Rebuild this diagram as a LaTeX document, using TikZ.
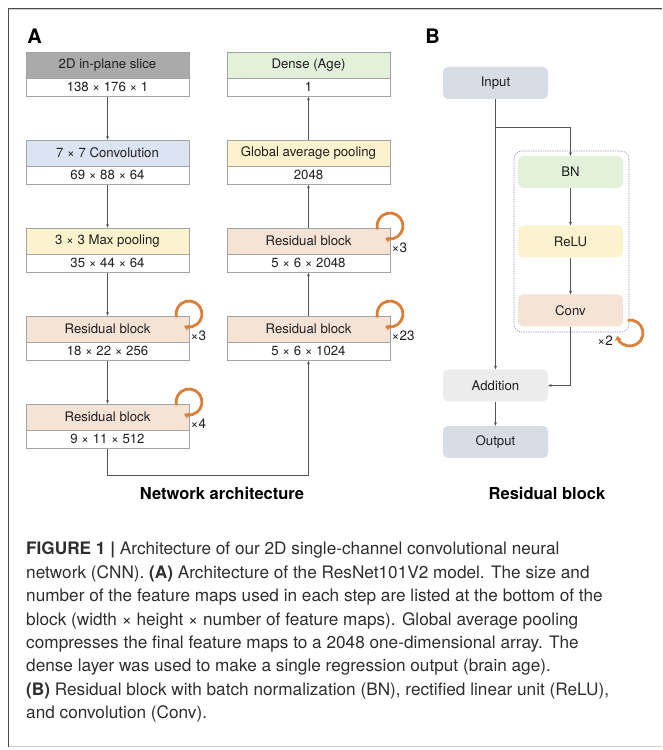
\documentclass[tikz,border=0pt]{standalone}
\usepackage{fontspec}
\setmainfont{TeX Gyre Heros}
\usetikzlibrary{arrows.meta}
\definecolor{bordc}{HTML}{A3A3A3}
\definecolor{arrc}{HTML}{555555}
\definecolor{slicec}{HTML}{AAAAAA}
\definecolor{convAc}{HTML}{DCE3F2}
\definecolor{yelc}{HTML}{FCF2CD}
\definecolor{resc}{HTML}{F5E3D5}
\definecolor{grnc}{HTML}{E3F0DA}
\definecolor{orng}{HTML}{DB7F38}
\definecolor{inpc}{HTML}{D7DCE5}
\definecolor{addc}{HTML}{ECECEC}
\definecolor{dashc}{HTML}{8E98C9}
\definecolor{captc}{HTML}{2E2E2E}
\definecolor{framec}{HTML}{4A4A4A}
\definecolor{framelc}{HTML}{CFCFCF}
\begin{document}
\begin{tikzpicture}[x=1pt,y=1pt,
  tp/.style={draw=bordc, line width=0.8pt, minimum width=163pt, minimum height=26pt, inner sep=0pt, font=\fontsize{13.2}{15}\selectfont, text=black!88},
  bp/.style={tp, fill=white, minimum height=18.5pt},
  arr/.style={draw=arrc, line width=0.6pt, -{Stealth[length=3.5pt,width=3pt]}},
  loopar/.style={draw=orng, line width=2.8pt, -{Stealth[length=5pt,width=7pt]}},
  rep/.style={font=\fontsize{13.5}{15}\selectfont, inner sep=0pt, text=black!88},
  rb/.style={rounded corners=5pt, minimum width=105pt, minimum height=32pt, inner sep=0pt, font=\fontsize{13.2}{15}\selectfont, text=black!88},
  ttl/.style={font=\fontsize{16.5}{18}\selectfont\bfseries, inner sep=0pt},
  lbl/.style={font=\fontsize{20}{22}\selectfont\bfseries, inner sep=0pt}
]
\useasboundingbox (0,0) rectangle (662,750);
% frame
\draw[framelc, line width=1pt] (8,3.5) -- (662,3.5);
\draw[framelc, line width=1pt] (8,740) -- (662,740);
\draw[framec, line width=1.2pt] (8,741.4) -- (662,741.4);
\draw[framec, line width=1pt] (8.5,742) -- (8.5,3);

\node[lbl] (lA) at (34.5,713.5) {A};
\node[lbl] (lB) at (432.5,713.5) {B};

% left column
\node[tp, fill=slicec] (a1t) at (107.5,685) {2D in-plane slice};
\node[bp] (a1b) at (107.5,662.75) {138 × 176 × 1};
\node[tp, fill=convAc] (a2t) at (107.5,597) {7 × 7 Convolution};
\node[bp] (a2b) at (107.5,574.75) {69 × 88 × 64};
\node[tp, fill=yelc] (a3t) at (107.5,509) {3 × 3 Max pooling};
\node[bp] (a3b) at (107.5,486.75) {35 × 44 × 64};
\node[tp, fill=resc] (a4t) at (107.5,421) {Residual block};
\node[bp] (a4b) at (107.5,398.75) {18 × 22 × 256};
\node[tp, fill=resc] (a5t) at (107.5,333) {Residual block};
\node[bp] (a5b) at (107.5,310.75) {9 × 11 × 512};

% right column
\node[tp, fill=grnc] (b1t) at (308.5,685) {Dense (Age)};
\node[bp] (b1b) at (308.5,662.75) {1};
\node[tp, fill=yelc] (b2t) at (308.5,597) {Global average pooling};
\node[bp] (b2b) at (308.5,574.75) {2048};
\node[tp, fill=resc] (b3t) at (308.5,509) {Residual block};
\node[bp] (b3b) at (308.5,486.75) {5 × 6 × 2048};
\node[tp, fill=resc] (b4t) at (308.5,421) {Residual block};
\node[bp] (b4b) at (308.5,398.75) {5 × 6 × 1024};

% arrows A
\draw[arr] (a1b.south) -- (a2t.north);
\draw[arr] (a2b.south) -- (a3t.north);
\draw[arr] (a3b.south) -- (a4t.north);
\draw[arr] (a4b.south) -- (a5t.north);
\coordinate (jn) at (308.5,275);
\draw[arr] (a5b.south) |- (jn) -- (b4b.south);
\draw[arr] (b4t.north) -- (b3b.south);
\draw[arr] (b3t.north) -- (b2b.south);
\draw[arr] (b2t.north) -- (b1b.south);

% loops A
\coordinate (la4) at (189,436);
\coordinate (la5) at (189,348);
\coordinate (lb3) at (390,524);
\coordinate (lb4) at (390,436);
\draw[loopar] (la4) ++(195:13) arc[start angle=195, end angle=-112, radius=13pt];
\draw[loopar] (la5) ++(195:13) arc[start angle=195, end angle=-112, radius=13pt];
\draw[loopar] (lb3) ++(195:13) arc[start angle=195, end angle=-112, radius=13pt];
\draw[loopar] (lb4) ++(195:13) arc[start angle=195, end angle=-112, radius=13pt];
\node[rep, anchor=west] (ra4) at (190.5,414) {×3};
\node[rep, anchor=west] (ra5) at (190.5,326) {×4};
\node[rep, anchor=west] (rb3) at (391.5,502) {×3};
\node[rep, anchor=west] (rb4) at (391.5,414) {×23};

\node[ttl] (tA) at (222,257) {Network architecture};
\node[ttl] (tB) at (547,257) {Residual block};

% panel B
\node[draw=dashc, line width=0.6pt, dash pattern=on 1.4pt off 1pt, rounded corners=8pt, minimum width=115pt, minimum height=181pt, inner sep=0pt] (cont) at (571.5,508.5) {};
\node[rb, fill=inpc] (inp) at (495.5,667) {Input};
\node[rb, fill=grnc] (bn) at (570.5,578) {BN};
\node[rb, fill=yelc] (relu) at (570.5,508.5) {ReLU};
\node[rb, fill=resc] (conv) at (570.5,439.5) {Conv};
\node[rb, fill=addc] (add) at (495.5,364.5) {Addition};
\node[rb, fill=inpc] (out) at (495.5,308) {Output};
\coordinate (br) at (495.5,623);
\draw[arr] (inp.south) -- (add.north);
\draw[arr] (br) -| (bn.north);
\draw[arr] (bn) -- (relu);
\draw[arr] (relu) -- (conv);
\draw[arr] (conv.south) |- (add.east);
\draw[arr] (add) -- (out);
\coordinate (lc) at (630,417);
\draw[loopar] (lc) ++(100:13) arc[start angle=100, end angle=-168, radius=13pt];
\node[rep, anchor=east] (rc) at (613,409) {×2};

% caption
\node[anchor=north west, inner sep=0pt, align=left, text=captc, font=\fontsize{17.2}{23.4}\selectfont] (cap) at (26,208) {%
\textbf{FIGURE 1 |} Architecture of our 2D single-channel convolutional neural\\
network (CNN). \textbf{(A)} Architecture of the ResNet101V2 model. The size and\\
number of the feature maps used in each step are listed at the bottom of the\\
block (width × height × number of feature maps). Global average pooling\\
compresses the final feature maps to a 2048 one-dimensional array. The\\
dense layer was used to make a single regression output (brain age).\\
\textbf{(B)} Residual block with batch normalization (BN), rectified linear unit (ReLU),\\
and convolution (Conv).};
\end{tikzpicture}
\end{document}
